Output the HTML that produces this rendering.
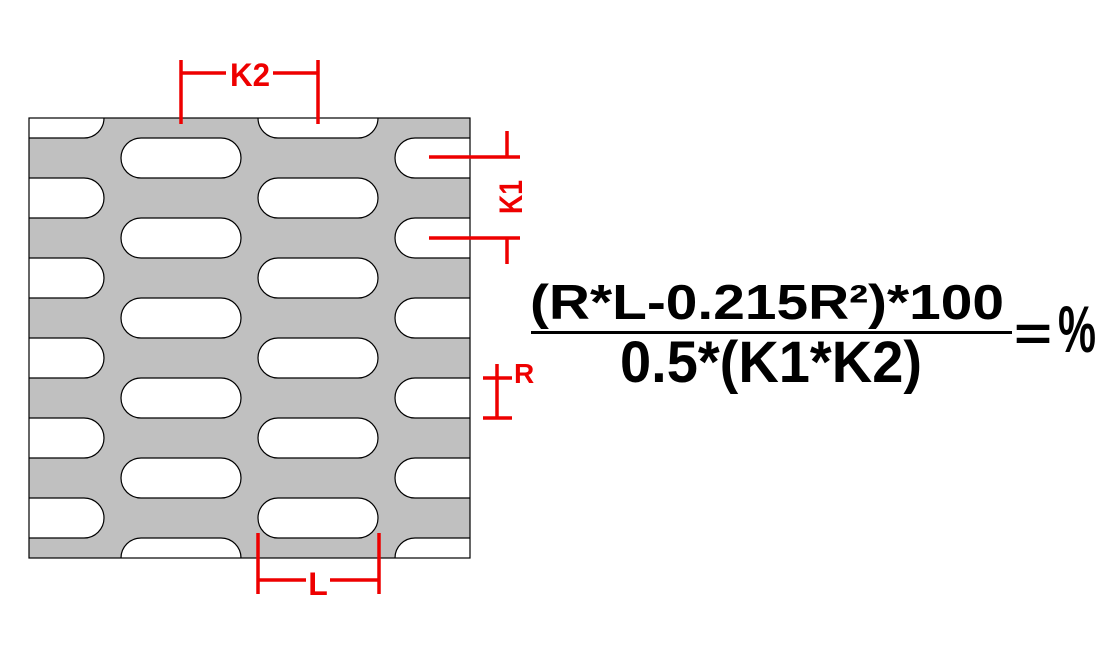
<!DOCTYPE html>
<html><head><meta charset="utf-8"><style>
html,body{margin:0;padding:0;background:#fff;}
svg{display:block;}
</style></head><body>
<svg width="1112" height="668" viewBox="0 0 1112 668" xmlns="http://www.w3.org/2000/svg">
<defs>
<clipPath id="plate"><rect x="29" y="118" width="441" height="440"/></clipPath>
</defs>
<rect x="29" y="118" width="441" height="440" fill="#c0c0c0"/>
<g clip-path="url(#plate)" fill="#fff" stroke="#000" stroke-width="1.2">
<rect x="-20" y="98" width="124" height="40" rx="20"/>
<rect x="-20" y="178" width="124" height="40" rx="20"/>
<rect x="-20" y="258" width="124" height="40" rx="20"/>
<rect x="-20" y="338" width="124" height="40" rx="20"/>
<rect x="-20" y="418" width="124" height="40" rx="20"/>
<rect x="-20" y="498" width="124" height="40" rx="20"/>
<rect x="121" y="138" width="120" height="40" rx="20"/>
<rect x="121" y="218" width="120" height="40" rx="20"/>
<rect x="121" y="298" width="120" height="40" rx="20"/>
<rect x="121" y="378" width="120" height="40" rx="20"/>
<rect x="121" y="458" width="120" height="40" rx="20"/>
<rect x="121" y="538" width="120" height="40" rx="20"/>
<rect x="258" y="98" width="120" height="40" rx="20"/>
<rect x="258" y="178" width="120" height="40" rx="20"/>
<rect x="258" y="258" width="120" height="40" rx="20"/>
<rect x="258" y="338" width="120" height="40" rx="20"/>
<rect x="258" y="418" width="120" height="40" rx="20"/>
<rect x="258" y="498" width="120" height="40" rx="20"/>
<rect x="395" y="138" width="120" height="40" rx="20"/>
<rect x="395" y="218" width="120" height="40" rx="20"/>
<rect x="395" y="298" width="120" height="40" rx="20"/>
<rect x="395" y="378" width="120" height="40" rx="20"/>
<rect x="395" y="458" width="120" height="40" rx="20"/>
<rect x="395" y="538" width="120" height="40" rx="20"/>
</g>
<rect x="29" y="118" width="441" height="440" fill="none" stroke="#000" stroke-width="1.2"/>

<g stroke="#e00" stroke-width="3.5" fill="none">
<line x1="181" y1="60" x2="181" y2="124"/>
<line x1="318" y1="60" x2="318" y2="124"/>
<line x1="181" y1="73" x2="226" y2="73"/>
<line x1="273" y1="73" x2="318" y2="73"/>
<line x1="429" y1="157" x2="520" y2="157"/>
<line x1="429" y1="238" x2="520" y2="238"/>
<line x1="507" y1="131" x2="507" y2="157"/>
<line x1="507" y1="238" x2="507" y2="264"/>
<line x1="483" y1="378" x2="512" y2="378"/>
<line x1="483" y1="418" x2="512" y2="418"/>
<line x1="497" y1="364" x2="497" y2="418"/>
<line x1="258" y1="533" x2="258" y2="594"/>
<line x1="379" y1="533" x2="379" y2="594"/>
<line x1="259" y1="580" x2="306" y2="580"/>
<line x1="330" y1="580" x2="378" y2="580"/>
</g>
<g fill="#e00" font-family="Liberation Sans, sans-serif" font-size="32" font-weight="bold">
<text x="250" y="86" text-anchor="middle" textLength="40" lengthAdjust="spacingAndGlyphs">K2</text>
<text x="318" y="595" text-anchor="middle">L</text>
<text x="514" y="383" font-size="28">R</text>
<text transform="translate(522,197) rotate(-90)" text-anchor="middle" textLength="34" lengthAdjust="spacingAndGlyphs">K1</text>
</g>
<g fill="#000" font-family="Liberation Sans, sans-serif" font-weight="bold">
<text x="530" y="319" font-size="49" textLength="474" lengthAdjust="spacingAndGlyphs">(R*L-0.215R²)*100</text>
<rect x="531" y="331" width="481" height="3"/>
<text x="620" y="382" font-size="58" textLength="302" lengthAdjust="spacingAndGlyphs">0.5*(K1*K2)</text>
<text x="1014" y="350" font-size="48" textLength="38" lengthAdjust="spacingAndGlyphs">=</text>
<text x="1058" y="352" font-size="66" textLength="38" lengthAdjust="spacingAndGlyphs">%</text>
</g>
</svg>
</body></html>
